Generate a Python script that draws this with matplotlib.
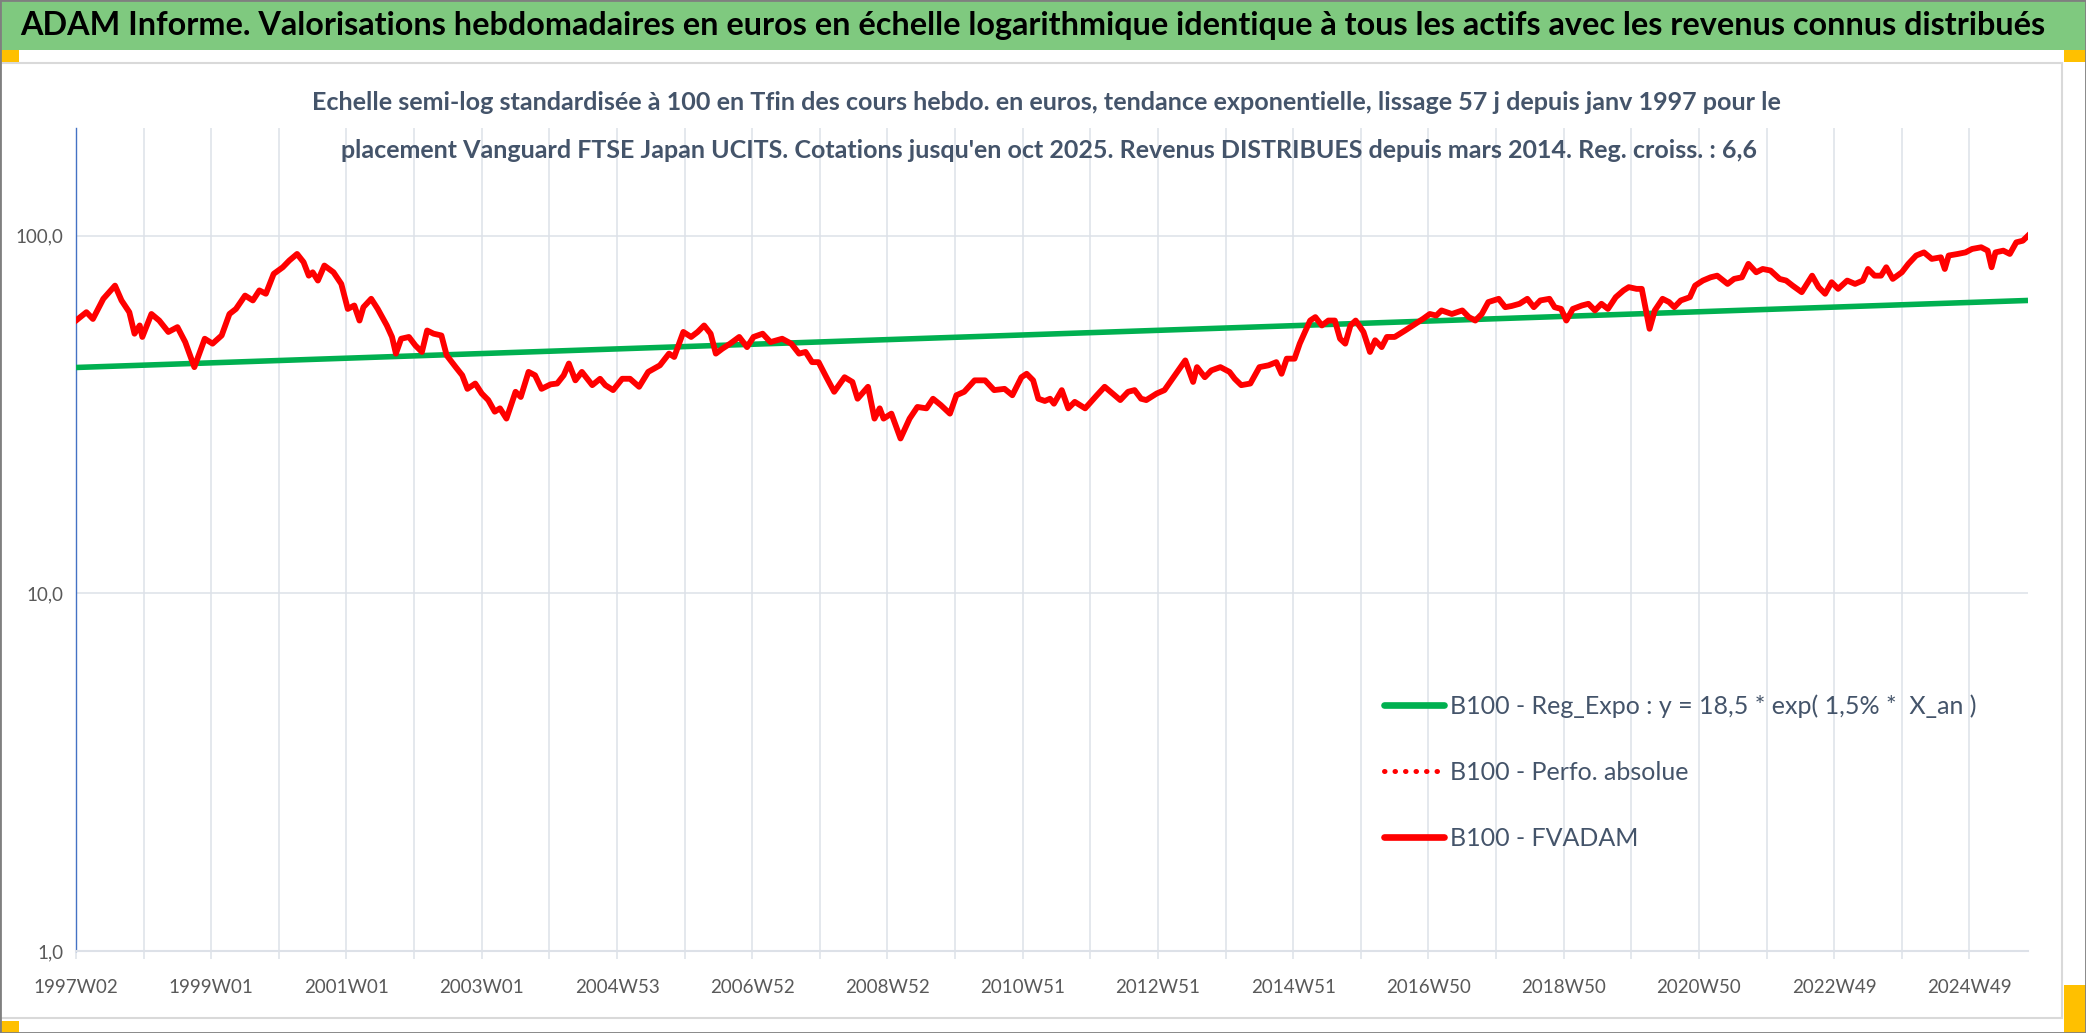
import matplotlib
matplotlib.use("Agg")
import matplotlib.pyplot as plt
from matplotlib.patches import Rectangle
from matplotlib.lines import Line2D
from matplotlib.ticker import FixedLocator, FixedFormatter, NullLocator

plt.rcParams['font.family'] = ['Lato', 'DejaVu Sans']

# semaines depuis 1997W02 et valeurs base 100
weeks = [0, 8, 13, 21, 30, 35, 41, 45, 49, 51, 58, 64, 71, 78, 84, 91, 99, 105, 112, 118,
         123, 130, 136, 141, 146, 152, 159, 164, 170, 175, 179, 182, 186, 191, 198, 204, 209, 214, 218, 221,
         227, 232, 239, 243, 246, 250, 256, 261, 266, 270, 275, 281, 285, 292, 297, 301, 307, 312, 317, 322,
         326, 331, 338, 342, 348, 353, 358, 365, 370, 375, 379, 384, 389, 397, 403, 407, 413, 420, 426, 433,
         440, 449, 456, 460, 467, 473, 478, 483, 488, 492, 497, 503, 510, 516, 521, 528, 534, 543, 550, 556,
         561, 566, 571, 577, 583, 591, 597, 601, 609, 614, 618, 621, 627, 634, 641, 647, 654, 659, 665, 672,
         677, 683, 691, 699, 706, 714, 720, 727, 731, 736, 740, 745, 749, 752, 758, 763, 768, 776, 785, 791,
         797, 803, 809, 814, 819, 823, 831, 837, 845, 853, 859, 862, 868, 873, 880, 887, 891, 896, 903, 910,
         917, 923, 927, 931, 937, 941, 945, 949, 953, 958, 963, 968, 972, 976, 980, 984, 990, 995, 999, 1004,
         1008, 1014, 1022, 1030, 1036, 1041, 1046, 1050, 1058, 1066, 1071, 1076, 1081, 1086, 1094, 1099, 1104, 1110, 1116, 1121,
         1126, 1133, 1137, 1142, 1146, 1151, 1158, 1163, 1168, 1173, 1178, 1184, 1190, 1194, 1200, 1204, 1207, 1210, 1214, 1220,
         1225, 1229, 1234, 1241, 1245, 1251, 1257, 1262, 1270, 1275, 1281, 1286, 1292, 1297, 1303, 1310, 1315, 1320, 1327, 1335,
         1340, 1345, 1350, 1355, 1362, 1368, 1374, 1378, 1383, 1388, 1392, 1397, 1404, 1409, 1415, 1421, 1427, 1434, 1437, 1440,
         1447, 1453, 1458, 1465, 1470, 1473, 1476, 1482, 1487, 1492, 1497, 1501]
fvadam = [57.9, 61.1, 58.5, 66.6, 72.5, 65.9, 61.1, 53.2, 56.1, 52.1, 60.4, 57.9, 53.8, 55.5, 50.4, 42.9, 51.5, 49.9, 52.6, 60.4,
          62.4, 68.0, 65.9, 70.3, 68.8, 78.2, 81.6, 85.2, 88.9, 84.3, 77.3, 79.0, 74.9, 82.5, 79.0, 73.3, 62.4, 63.8, 57.9, 63.1,
          66.6, 62.4, 56.1, 52.1, 46.8, 51.5, 52.1, 49.3, 47.3, 54.3, 53.2, 52.6, 46.3, 42.9, 40.7, 37.3, 38.6, 36.2, 34.7, 32.2,
          32.9, 30.8, 36.6, 35.4, 41.6, 40.7, 37.3, 38.4, 38.6, 40.7, 43.9, 39.4, 41.6, 38.2, 39.8, 38.2, 37.0, 39.8, 39.8, 37.8,
          41.6, 43.4, 46.8, 45.8, 53.8, 52.1, 53.8, 56.1, 53.2, 46.8, 48.3, 49.9, 52.1, 48.8, 52.1, 53.2, 50.4, 51.5, 49.9, 46.8,
          47.3, 44.3, 44.3, 40.2, 36.6, 40.2, 39.0, 35.0, 37.8, 30.8, 32.9, 30.8, 31.8, 27.1, 30.8, 33.2, 32.9, 35.0, 33.6, 31.8,
          35.8, 36.6, 39.4, 39.4, 37.0, 37.3, 35.8, 40.2, 41.1, 39.4, 35.0, 34.5, 35.0, 33.9, 37.0, 32.9, 34.3, 32.9, 35.8, 37.8,
          36.2, 34.7, 36.6, 37.0, 35.0, 34.7, 36.2, 37.0, 40.7, 44.8, 39.0, 42.9, 40.2, 42.0, 42.9, 41.6, 39.8, 38.2, 38.6, 42.9,
          43.4, 44.3, 41.1, 45.3, 45.3, 49.9, 53.8, 57.9, 59.2, 56.1, 57.9, 57.9, 51.5, 49.9, 56.1, 57.9, 53.8, 47.3, 51.0, 48.8,
          52.1, 52.1, 54.3, 56.7, 58.6, 60.4, 59.8, 61.8, 60.4, 61.8, 59.2, 57.9, 60.4, 65.2, 66.6, 63.1, 63.6, 64.5, 66.6, 63.1,
          65.9, 66.6, 63.1, 62.4, 57.9, 62.4, 63.8, 64.5, 61.8, 64.5, 62.4, 67.3, 70.3, 71.8, 71.0, 71.0, 62.4, 54.9, 61.8, 66.6,
          65.2, 63.1, 65.9, 67.3, 72.5, 74.9, 76.5, 77.3, 73.3, 75.7, 76.5, 83.4, 79.0, 80.7, 79.9, 75.7, 74.9, 72.5, 69.5, 77.3,
          71.8, 68.8, 74.1, 71.0, 74.9, 73.3, 74.9, 80.7, 77.3, 77.3, 81.6, 75.7, 79.0, 83.4, 88.0, 89.8, 86.1, 87.0, 80.7, 88.0,
          88.9, 89.8, 91.8, 92.8, 90.8, 81.6, 89.8, 90.8, 88.9, 95.8, 96.8, 100.0]
perfo_abs = fvadam
reg_weeks = [0, 1501]
reg_expo = [42.8, 65.9]

tick_weeks = list(range(0, 1457, 52))
tick_labels = ['1997W02', '', '1999W01', '', '2001W01', '', '2003W01', '', '2004W53', '', '2006W52', '',
               '2008W52', '', '2010W51', '', '2012W51', '', '2014W51', '', '2016W50', '', '2018W50', '',
               '2020W50', '', '2022W49', '', '2024W49']

title = ("ADAM Informe. Valorisations hebdomadaires en euros en échelle logarithmique "
         "identique à tous les actifs avec les revenus connus distribués")
sub1 = ("Echelle semi-log standardisée à 100 en Tfin des cours hebdo. en euros, tendance exponentielle, "
        "lissage 57 j depuis janv 1997 pour le")
sub2 = ("placement Vanguard FTSE Japan UCITS. Cotations jusqu'en oct 2025. Revenus DISTRIBUES "
        "depuis mars 2014. Reg. croiss. : 6,6")
lab_reg = "B100 - Reg_Expo : y = 18,5 * exp( 1,5% *  X_an )"
lab_perfo = "B100 - Perfo. absolue"
lab_fv = "B100 - FVADAM"

W, H = 2086, 1033
fig = plt.figure(figsize=(W / 100, H / 100), dpi=100)
fig.patch.set_facecolor('white')

# bandeau vert et cadre
fig.patches.append(Rectangle((0, 1 - 50 / H), 1, 50 / H, transform=fig.transFigure,
                             facecolor='#7FC97F', edgecolor='none', zorder=0))
fig.patches.append(Rectangle((0, 1 - 1018 / H), 2062 / W, (1018 - 63) / H, transform=fig.transFigure,
                             facecolor='none', edgecolor='#D9D9D9', lw=1.5, zorder=0))
for (x0, y0, w, h) in [(0, 50, 19, 12), (0, 1021, 19, 12), (2064, 50, 22, 12), (2064, 985, 22, 48)]:
    fig.patches.append(Rectangle((x0 / W, 1 - (y0 + h) / H), w / W, h / H, transform=fig.transFigure,
                                 facecolor='#FFC000', edgecolor='none', zorder=1))
fig.patches.append(Rectangle((0, 0), 1, 1, transform=fig.transFigure,
                             facecolor='none', edgecolor='#7F7F7F', lw=2, zorder=2))

ax = fig.add_axes([76 / W, 1 - 951 / H, (2028 - 76) / W, (951 - 128) / H])
ax.set_yscale('log')
ax.set_ylim(1, 200)
ax.set_xlim(0, 1501)

ax.plot(reg_weeks, reg_expo, color='#00B050', lw=4.0, solid_capstyle='butt', zorder=3)
ax.plot(weeks, perfo_abs, color='#FF0000', lw=3.0, linestyle=(0, (0.1, 2)),
        dash_capstyle='round', zorder=4)
ax.plot(weeks, fvadam, color='#FF0000', lw=4.2, solid_joinstyle='round', zorder=5)

ax.yaxis.set_major_locator(FixedLocator([1, 10, 100]))
ax.yaxis.set_major_formatter(FixedFormatter(['1,0', '10,0', '100,0']))
ax.yaxis.set_minor_locator(NullLocator())
ax.xaxis.set_major_locator(FixedLocator(tick_weeks))
ax.xaxis.set_major_formatter(FixedFormatter(tick_labels))
ax.xaxis.set_minor_locator(NullLocator())

grid_c = '#DDE1E8'
ax.grid(True, which='major', color=grid_c, lw=1.1)
ax.set_axisbelow(True)
for s in ['top', 'right']:
    ax.spines[s].set_visible(False)
ax.spines['left'].set_color('#4472C4')
ax.spines['left'].set_linewidth(1.0)
ax.spines['bottom'].set_color(grid_c)
ax.spines['bottom'].set_linewidth(1.5)
ax.tick_params(axis='y', length=0, pad=9, labelsize=13.5, labelcolor='#595959')
ax.tick_params(axis='x', length=6, width=1.1, color=grid_c, pad=14, labelsize=13.5, labelcolor='#595959')

# textes
t0 = fig.text(20 / W, 1 - 25 / H, title, ha='left', va='center', fontsize=22,
              fontweight='bold', color='black')
t1 = fig.text(1046 / W, 1 - 102 / H, sub1, ha='center', va='center', fontsize=16,
              fontweight='bold', color='#44546A')
t2 = fig.text(1049 / W, 1 - 150 / H, sub2, ha='center', va='center', fontsize=16,
              fontweight='bold', color='#44546A')
r = fig.canvas.get_renderer()
for t, wpx in [(t0, 2025), (t1, 1477), (t2, 1420)]:
    t.set_fontsize(t.get_fontsize() * wpx / t.get_window_extent(r).width)

handles = [Line2D([], [], color='#00B050', lw=4.8, solid_capstyle='round'),
           Line2D([], [], color='#FF0000', lw=3.6, linestyle=(0, (0.1, 2)), dash_capstyle='round'),
           Line2D([], [], color='#FF0000', lw=4.8, solid_capstyle='round')]
fig.legend(handles, [lab_reg, lab_perfo, lab_fv], loc='upper left',
           bbox_to_anchor=(1384 / W, 1 - 694 / H), frameon=False, fontsize=18,
           handlelength=2.4, handletextpad=0.25, labelspacing=1.72, borderpad=0,
           borderaxespad=0, labelcolor='#44546A')

fig.savefig('out.png', dpi=100)
